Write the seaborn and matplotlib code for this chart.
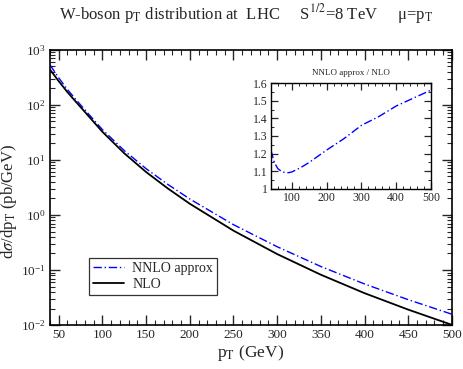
import matplotlib
matplotlib.use('Agg')
import matplotlib.pyplot as plt
import matplotlib.ticker as mticker
from matplotlib.lines import Line2D
import seaborn as sns
import numpy as np
import pandas as pd

# values
pt = [40, 50, 60, 70, 80, 100, 125, 150, 175, 200, 250, 300, 350, 400, 450, 500]
nlo = [437, 269, 170, 112, 74.1, 32.4, 13.2, 6.03, 3.02, 1.60,
       0.519, 0.195, 0.0822, 0.0380, 0.0191, 0.0101]
# NNLO approx / NLO at the same pT points
k_factor = [1.22, 1.15, 1.115, 1.10, 1.093, 1.096, 1.12, 1.15, 1.185, 1.22,
            1.285, 1.36, 1.41, 1.47, 1.515, 1.56]
nnlo = [n * k for n, k in zip(nlo, k_factor)]

# inset ratio curve
ratio_pt = [40, 50, 60, 70, 80, 90, 100, 125, 150, 175, 200, 250, 300, 350, 400, 450, 500]
ratio = [1.22, 1.15, 1.115, 1.10, 1.093, 1.092, 1.096, 1.12, 1.15, 1.185,
         1.22, 1.285, 1.36, 1.41, 1.47, 1.515, 1.56]

df = pd.DataFrame({'pt': pt * 2,
                   'xs': nnlo + nlo,
                   'order': ['NNLO approx'] * len(pt) + ['NLO'] * len(pt)})
df_ratio = pd.DataFrame({'pt': ratio_pt, 'ratio': ratio})

sns.set_theme(style='ticks')
plt.rcParams['font.family'] = ['Liberation Serif', 'DejaVu Serif']
plt.rcParams['mathtext.fontset'] = 'stix'
plt.rcParams['xtick.direction'] = 'in'
plt.rcParams['ytick.direction'] = 'in'

dashdot = (6, 2, 1, 2)

fig = plt.figure(figsize=(4.63, 3.69), dpi=100)
ax = fig.add_axes([0.108, 0.119, 0.868, 0.746])

sns.lineplot(data=df, x='pt', y='xs', hue='order', style='order',
             palette={'NNLO approx': 'blue', 'NLO': 'black'},
             dashes={'NNLO approx': dashdot, 'NLO': ''},
             size='order', sizes={'NNLO approx': 1.0, 'NLO': 1.3},
             ax=ax, legend=False)
ax.set_yscale('log')
ax.set_xlim(40, 500)
ax.set_ylim(1e-2, 1e3)
ax.xaxis.set_major_locator(mticker.MultipleLocator(50))
ax.xaxis.set_minor_locator(mticker.MultipleLocator(10))
ax.yaxis.set_major_locator(mticker.LogLocator(base=10, numticks=10))
ax.yaxis.set_minor_locator(mticker.LogLocator(base=10, subs=np.arange(2, 10), numticks=20))
ax.yaxis.set_minor_formatter(mticker.NullFormatter())
ax.tick_params(which='both', top=True, right=True, labelsize=9.5, pad=3)
ax.tick_params(which='major', length=7, width=1)
ax.tick_params(which='minor', length=3.5, width=0.8)
for s in ax.spines.values():
    s.set_linewidth(1.2)
    s.set_color('black')
ax.set_xlabel(r'p$_\mathrm{T}$ (GeV)', fontsize=12.5, labelpad=1)
ax.set_ylabel(r'd$\sigma$/dp$_\mathrm{T}$ (pb/GeV)', fontsize=12)
ax.yaxis.set_label_coords(-0.078, 0.45)

# legend
handles = [Line2D([], [], color='blue', lw=1.0, dashes=dashdot),
           Line2D([], [], color='black', lw=1.3)]
leg = ax.legend(handles, ['NNLO approx', 'NLO'], loc='lower left',
                bbox_to_anchor=(0.08, 0.085), fontsize=10, frameon=True,
                fancybox=False, handlelength=2.2, borderpad=0.3,
                labelspacing=0.2, handletextpad=0.6)
leg.get_frame().set_edgecolor('black')
leg.get_frame().set_linewidth(0.9)

fig.text(0.531, 0.963, r'W-boson p$_\mathrm{T}$ distribution at  LHC     '
         r'S$^{1/2}$=8 TeV     μ=p$_\mathrm{T}$',
         ha='center', va='center', fontsize=12)

# inset: ratio
axi = fig.add_axes([0.585, 0.488, 0.346, 0.287])
sns.lineplot(data=df_ratio, x='pt', y='ratio', color='blue', lw=1.0, ax=axi)
axi.lines[0].set_dashes(dashdot)
axi.set_xlim(40, 500)
axi.set_ylim(1, 1.6)
axi.xaxis.set_major_locator(mticker.MultipleLocator(100))
axi.xaxis.set_minor_locator(mticker.MultipleLocator(20))
axi.yaxis.set_major_locator(mticker.MultipleLocator(0.1))
axi.yaxis.set_minor_locator(mticker.MultipleLocator(0.05))
axi.yaxis.set_major_formatter(mticker.FuncFormatter(lambda v, p: f'{v:g}'))
axi.tick_params(which='both', top=True, right=True, labelsize=8.5, pad=2)
axi.tick_params(which='major', length=5, width=0.9)
axi.tick_params(which='minor', length=2.5, width=0.7)
for s in axi.spines.values():
    s.set_linewidth(1.0)
    s.set_color('black')
axi.set_xlabel('')
axi.set_ylabel('')
axi.set_title('NNLO approx / NLO', fontsize=6.5, pad=6)

fig.savefig('out.png', dpi=100)
